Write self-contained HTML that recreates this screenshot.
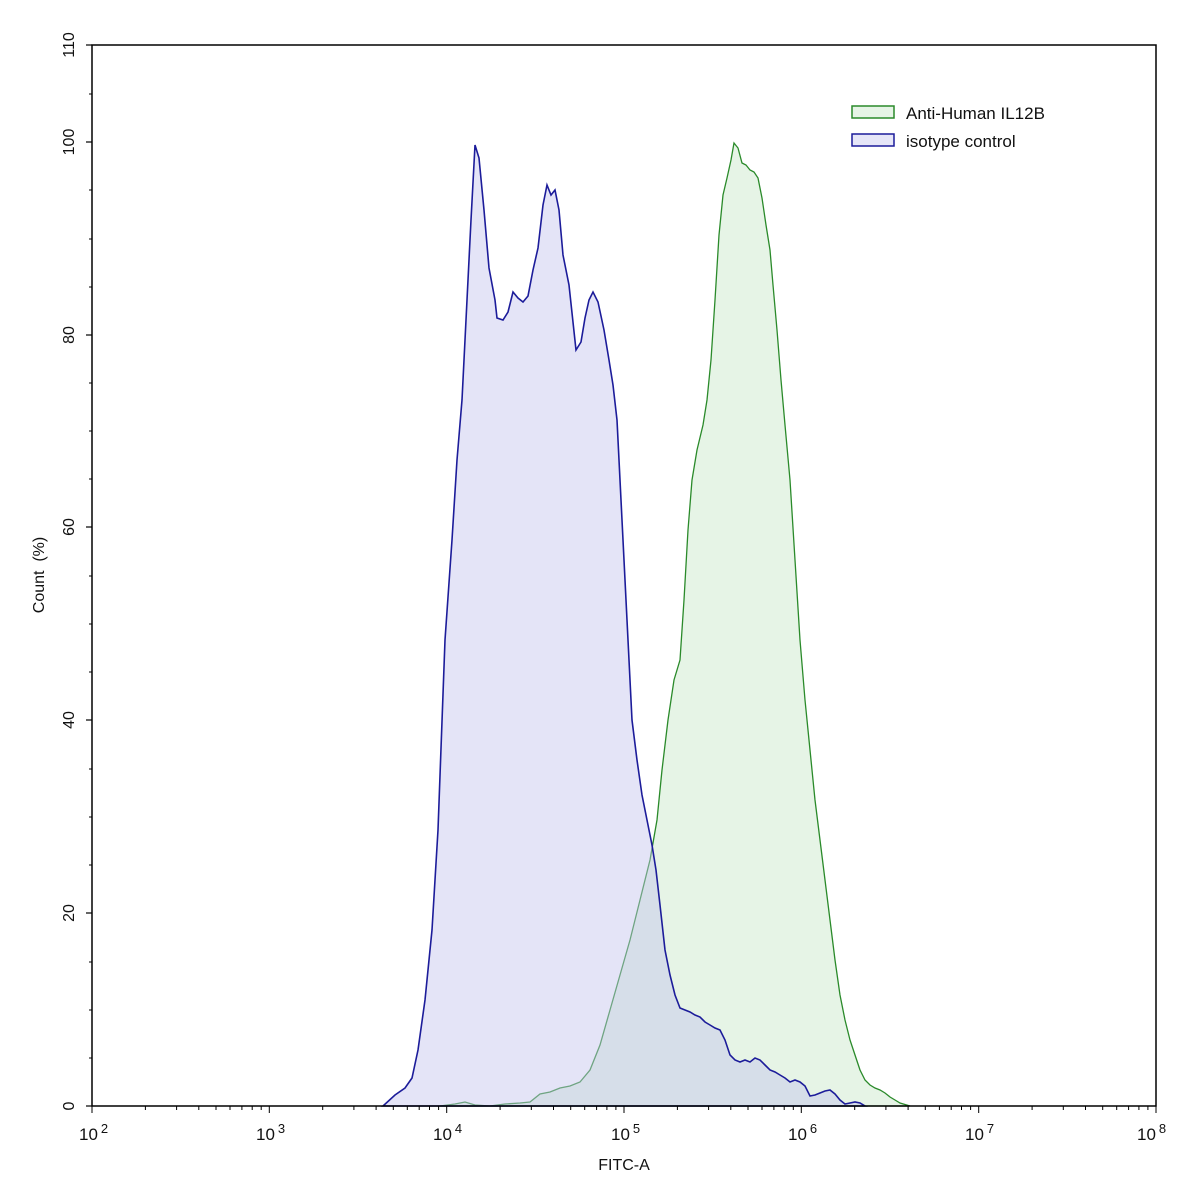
<!DOCTYPE html>
<html><head><meta charset="utf-8"><style>html,body{margin:0;padding:0;background:#fff}svg{display:block}</style></head><body>
<svg width="1197" height="1193" viewBox="0 0 1197 1193" xmlns="http://www.w3.org/2000/svg" font-family="Liberation Sans, sans-serif">
<rect width="1197" height="1193" fill="#fff"/>
<path d="M440,1106 L455,1104 L465,1102 L475,1105 L490,1106 L505,1104 L520,1103 L530,1102 L540,1094 L550,1092 L560,1088 L570,1086 L580,1082 L590,1070 L600,1045 L610,1010 L620,975 L630,940 L640,900 L650,860 L657,820 L662,770 L668,720 L674,680 L680,660 L684,600 L688,530 L692,480 L697,450 L703,425 L707,400 L711,360 L715,300 L719,235 L723,195 L727,178 L731,160 L734,143 L738,148 L742,163 L746,165 L750,170 L754,172 L758,178 L762,198 L766,225 L770,250 L773,285 L777,330 L781,380 L785,425 L790,480 L795,560 L800,640 L805,700 L810,750 L815,800 L820,840 L825,880 L830,920 L835,960 L840,995 L845,1020 L850,1040 L855,1055 L860,1070 L865,1080 L870,1085 L875,1088 L880,1090 L885,1093 L890,1097 L895,1100 L900,1103 L910,1106 Z" fill="#e6f4e6" stroke="#2a8a2a" stroke-width="1.3"/>
<path d="M383,1106 L395,1095 L405,1088 L412,1078 L418,1050 L425,1000 L432,930 L438,830 L445,640 L452,540 L457,460 L462,400 L467,300 L471,220 L475,145 L479,158 L484,210 L489,268 L495,300 L497,318 L503,320 L508,312 L513,292 L518,298 L523,302 L528,296 L533,270 L538,248 L543,205 L547,185 L551,195 L555,190 L559,210 L563,255 L569,285 L576,350 L581,342 L585,318 L589,300 L593,292 L598,302 L604,330 L609,360 L613,385 L617,420 L622,520 L627,620 L632,720 L637,760 L642,795 L647,820 L652,845 L656,870 L660,905 L665,950 L670,975 L675,995 L680,1008 L685,1010 L690,1012 L695,1015 L700,1017 L705,1022 L710,1025 L715,1028 L720,1030 L725,1040 L730,1055 L735,1060 L740,1062 L745,1060 L750,1062 L755,1058 L760,1060 L765,1065 L770,1070 L775,1072 L780,1075 L785,1078 L790,1082 L795,1080 L800,1082 L805,1086 L810,1096 L815,1095 L820,1093 L825,1091 L830,1090 L835,1094 L840,1100 L845,1104 L850,1103 L855,1102 L860,1103 L865,1106 Z" fill="#c4c4ee" fill-opacity="0.45" stroke="#1c1c9a" stroke-width="1.6"/>
<rect x="92" y="45" width="1064" height="1061" fill="none" stroke="#000" stroke-width="1.5"/>
<g stroke="#000" stroke-width="1.2">
<line x1="86" y1="1106" x2="92" y2="1106"/><line x1="86" y1="913" x2="92" y2="913"/><line x1="86" y1="720" x2="92" y2="720"/><line x1="86" y1="527" x2="92" y2="527"/><line x1="86" y1="335" x2="92" y2="335"/><line x1="86" y1="142" x2="92" y2="142"/><line x1="86" y1="45" x2="92" y2="45"/>
</g>
<g stroke="#000" stroke-width="1">
<path d="M89,1058h3M89,1010h3M89,962h3M89,865h3M89,817h3M89,769h3M89,672h3M89,624h3M89,576h3M89,479h3M89,431h3M89,383h3M89,287h3M89,239h3M89,190h3M89,94h3"/>
<path d="M92,1106v7M269.3,1106v7M446.7,1106v7M624,1106v7M801.3,1106v7M978.7,1106v7M1156,1106v7"/>
<path d="M145.4,1106v4M176.6,1106v4M198.8,1106v4M216,1106v4M230,1106v4M241.9,1106v4M252.2,1106v4M261.2,1106v4
M322.7,1106v4M353.9,1106v4M376.1,1106v4M393.3,1106v4M407.3,1106v4M419.2,1106v4M429.5,1106v4M438.6,1106v4
M500.1,1106v4M531.3,1106v4M553.5,1106v4M570.7,1106v4M584.7,1106v4M596.6,1106v4M606.9,1106v4M615.9,1106v4
M677.4,1106v4M708.6,1106v4M730.8,1106v4M748,1106v4M762,1106v4M773.9,1106v4M784.2,1106v4M793.3,1106v4
M854.7,1106v4M885.9,1106v4M908.1,1106v4M925.3,1106v4M939.4,1106v4M951.2,1106v4M961.5,1106v4M970.6,1106v4
M1032.1,1106v4M1063.3,1106v4M1085.5,1106v4M1102.7,1106v4M1116.7,1106v4M1128.6,1106v4M1138.9,1106v4M1147.9,1106v4"/>
</g>
<g font-size="16" fill="#111" text-anchor="middle">
<text transform="translate(74,1106) rotate(-90)">0</text>
<text transform="translate(74,913) rotate(-90)">20</text>
<text transform="translate(74,720) rotate(-90)">40</text>
<text transform="translate(74,527) rotate(-90)">60</text>
<text transform="translate(74,335) rotate(-90)">80</text>
<text transform="translate(74,142) rotate(-90)">100</text>
<text transform="translate(74,45) rotate(-90)">110</text>
<text transform="translate(44,575) rotate(-90)" xml:space="preserve">Count  (%)</text>
</g>
<g font-size="17" fill="#111">
<text x="79" y="1140">10<tspan font-size="13" dx="3" dy="-7">2</tspan></text>
<text x="256" y="1140">10<tspan font-size="13" dx="3" dy="-7">3</tspan></text>
<text x="433" y="1140">10<tspan font-size="13" dx="3" dy="-7">4</tspan></text>
<text x="611" y="1140">10<tspan font-size="13" dx="3" dy="-7">5</tspan></text>
<text x="788" y="1140">10<tspan font-size="13" dx="3" dy="-7">6</tspan></text>
<text x="965" y="1140">10<tspan font-size="13" dx="3" dy="-7">7</tspan></text>
<text x="1137" y="1140">10<tspan font-size="13" dx="3" dy="-7">8</tspan></text>
<text x="624" y="1170" text-anchor="middle" font-size="16">FITC-A</text>
</g>
<rect x="852" y="106" width="42" height="12" fill="#e6f4e6" stroke="#2a8a2a" stroke-width="1.5"/>
<rect x="852" y="134" width="42" height="12" fill="#e6e6f8" stroke="#1c1c9a" stroke-width="1.5"/>
<text x="906" y="119" font-size="17" fill="#111">Anti-Human IL12B</text>
<text x="906" y="147" font-size="17" fill="#111">isotype control</text>
</svg>
</body></html>
